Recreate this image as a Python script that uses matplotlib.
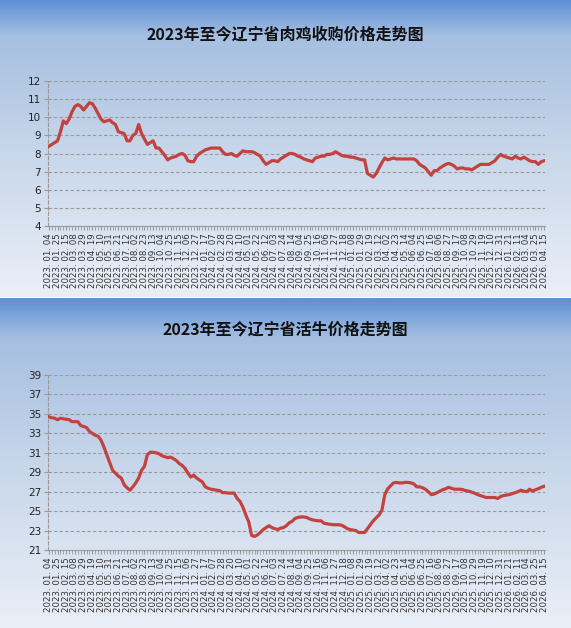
import numpy as np
import pandas as pd
import matplotlib
matplotlib.use("Agg")
import matplotlib.pyplot as plt
from matplotlib.colors import LinearSegmentedColormap

plt.rcParams['font.family'] = ['Noto Sans CJK SC', 'DejaVu Sans']

dates = pd.date_range("2023-01-04", "2026-04-15", freq="7D")

chicken = [
    8.4, 8.5, 8.6, 8.7, 9.2, 9.8, 9.65, 9.9, 10.3, 10.6,
    10.7, 10.6, 10.4, 10.6, 10.8, 10.75, 10.5, 10.2, 9.9, 9.75,
    9.8, 9.85, 9.7, 9.6, 9.2, 9.15, 9.1, 8.7, 8.7, 9.0,
    9.1, 9.6, 9.1, 8.8, 8.5, 8.6, 8.7, 8.3, 8.3, 8.1,
    7.9, 7.65, 7.75, 7.8, 7.85, 7.95, 8.0, 7.9, 7.6, 7.55,
    7.55, 7.85, 8.0, 8.1, 8.2, 8.25, 8.3, 8.3, 8.3, 8.3,
    8.1, 7.95, 7.95, 8.0, 7.9, 7.85, 8.0, 8.15, 8.1, 8.1,
    8.1, 8.05, 7.95, 7.85, 7.6, 7.4, 7.5, 7.6, 7.6, 7.55,
    7.7, 7.8, 7.9, 8.0, 8.0, 7.95, 7.85, 7.8, 7.7, 7.65,
    7.6, 7.55, 7.75, 7.8, 7.85, 7.85, 7.95, 7.95, 8.0, 8.1,
    8.0, 7.9, 7.85, 7.85, 7.8, 7.8, 7.75, 7.7, 7.65, 7.65,
    6.9, 6.8, 6.7, 6.9, 7.2, 7.5, 7.75, 7.65, 7.7, 7.75,
    7.7, 7.7, 7.7, 7.7, 7.7, 7.7, 7.7, 7.6, 7.4, 7.3,
    7.2, 7.0, 6.8, 7.05, 7.05, 7.2, 7.3, 7.4, 7.45, 7.4,
    7.3, 7.15, 7.2, 7.2, 7.15, 7.15, 7.1, 7.2, 7.3, 7.4,
    7.4, 7.4, 7.4, 7.5, 7.6, 7.8, 7.95, 7.85, 7.8, 7.75,
    7.7, 7.85, 7.75, 7.7, 7.8, 7.7, 7.6, 7.55, 7.55, 7.4,
    7.55, 7.6,
]

cattle = [
    34.7, 34.6, 34.55, 34.4, 34.55, 34.5, 34.45, 34.4, 34.2, 34.2,
    34.2, 33.8, 33.7, 33.6, 33.2, 33.0, 32.8, 32.7, 32.3, 31.6,
    30.8, 30.0, 29.2, 28.9, 28.6, 28.4, 27.7, 27.4, 27.15, 27.5,
    27.9, 28.4, 29.2, 29.6, 30.8, 31.05, 31.05, 31.0, 30.9, 30.7,
    30.6, 30.5, 30.55, 30.4, 30.2, 29.9, 29.7, 29.4, 28.9, 28.5,
    28.7, 28.4, 28.2, 28.0, 27.5, 27.35, 27.25, 27.2, 27.15, 27.1,
    26.9, 26.9, 26.85, 26.85, 26.85, 26.3, 26.0, 25.4, 24.6, 23.9,
    22.5, 22.4, 22.55, 22.8, 23.1, 23.3, 23.5, 23.3, 23.2, 23.1,
    23.25, 23.3, 23.5, 23.8, 23.95, 24.25, 24.35, 24.4, 24.4, 24.35,
    24.2, 24.1, 24.05, 24.0, 24.0, 23.75, 23.7, 23.65, 23.6, 23.6,
    23.6, 23.55, 23.4, 23.2, 23.1, 23.05, 23.0, 22.8, 22.8, 22.8,
    23.2, 23.6, 24.0, 24.3, 24.6, 25.1, 26.7, 27.3, 27.6, 27.9,
    27.95, 27.9, 27.9, 27.95, 27.95, 27.9, 27.8, 27.5, 27.5, 27.4,
    27.25, 27.0, 26.7, 26.75, 26.9, 27.05, 27.2, 27.3, 27.45, 27.35,
    27.25, 27.25, 27.25, 27.2, 27.1, 27.05, 26.95, 26.85, 26.7, 26.6,
    26.5, 26.4, 26.4, 26.4, 26.4, 26.3, 26.5, 26.6, 26.65, 26.7,
    26.8, 26.9, 27.0, 27.15, 27.05, 27.0, 27.25, 27.05, 27.2, 27.3,
    27.45, 27.55,
]

title1 = "2023年至今辽宁省肉鸡收购价格走势图"
title2 = "2023年至今辽宁省活牛价格走势图"
yticks1 = list(range(4, 13))
yticks2 = list(range(21, 40, 2))

W, H = 571, 628
fig = plt.figure(figsize=(W / 100, H / 100), dpi=100)

cmap = LinearSegmentedColormap.from_list(
    "bg", [(0, "#5e90d6"), (0.12, "#a6bfe1"), (0.5, "#c7d6ea"), (1, "#eaeff7")])
grad = np.linspace(0, 1, 256).reshape(-1, 1)
for (top, bot) in [(0, 297), (298, 628)]:
    bax = fig.add_axes([0, 1 - bot / H, 1, (bot - top) / H])
    bax.imshow(grad, aspect="auto", cmap=cmap, extent=[0, 1, 0, 1])
    bax.axis("off")
sep = fig.add_axes([0, 1 - 298.5 / H, 1, 1.5 / H])
sep.set_facecolor("#b8c8dc")
sep.axis("off")

x = np.arange(len(dates))
labels = [d.strftime("%Y. %m. %d") for d in dates]
lab_idx = x[::3]

def panel(top, bottom, vals, yt, title, ty):
    ax = fig.add_axes([48 / W, 1 - bottom / H, (545 - 48) / W, (bottom - top) / H])
    ax.patch.set_alpha(0)
    ax.plot(x, vals, color="#c3423f", lw=2.3, solid_joinstyle="round", zorder=3)
    ax.set_xlim(-0.3, len(x) - 0.7)
    ax.set_ylim(yt[0], yt[-1])
    ax.set_yticks(yt)
    ax.set_yticklabels([str(v) for v in yt], fontsize=7.5, family="DejaVu Sans",
                       color="#222222")
    for v in yt[1:]:
        ax.axhline(v, color="#999999", lw=0.8, ls=(0, (3, 2)), zorder=1)
    ax.set_xticks(lab_idx)
    ax.set_xticks(x, minor=True)
    ax.set_xticklabels([labels[i] for i in lab_idx], rotation=90, fontsize=6.2,
                       family="DejaVu Sans", color="#333333")
    ax.tick_params(axis="x", which="both", length=3, color="#999999", pad=2)
    ax.tick_params(axis="y", length=3, color="#999999", pad=2)
    for s in ["top", "right"]:
        ax.spines[s].set_visible(False)
    ax.spines["bottom"].set_color("#999999")
    ax.spines["left"].set_color("#999999")
    ax.spines["left"].set_linestyle((0, (3, 2)))
    fig.text(0.5, 1 - ty / H, title, ha="center", va="center", fontsize=11.5,
             fontweight="bold", color="#111111")

panel(81, 226, chicken, yticks1, title1, 35)
panel(375, 550, cattle, yticks2, title2, 330)

fig.savefig("out.png", dpi=100)
